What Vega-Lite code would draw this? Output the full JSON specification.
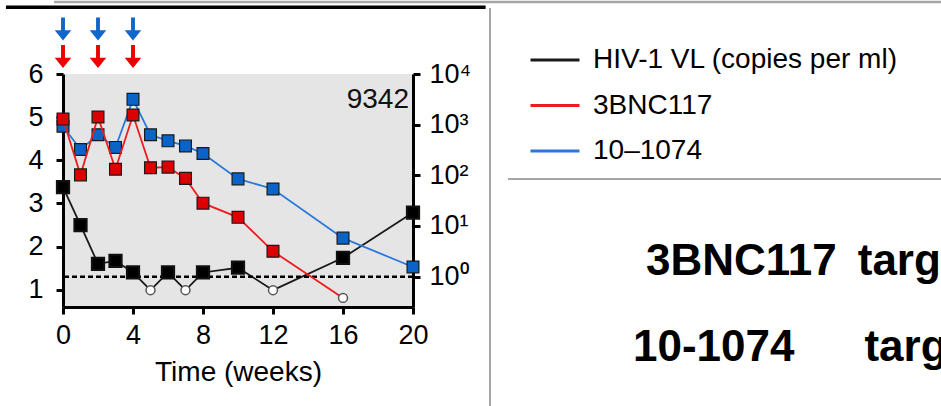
{
  "$schema": "https://vega.github.io/schema/vega-lite/v6.json",
  "width": 350,
  "height": 233,
  "autosize": {"type": "none"},
  "padding": {"left": 63, "top": 74, "right": 528, "bottom": 99},
  "background": "white",
  "config": {
    "font": "Liberation Sans",
    "view": {"fill": "#e5e5e5", "stroke": null},
    "axis": {"labelColor": "black", "titleColor": "black", "domainColor": "black", "tickColor": "black", "grid": false, "labelFont": "Liberation Sans", "titleFont": "Liberation Sans"}
  },
  "datasets": {
    "obs": [
      {"series": "HIV-1 VL (copies per ml)", "week": 0, "value": 3.38, "detected": true},
      {"series": "HIV-1 VL (copies per ml)", "week": 1, "value": 2.5, "detected": true},
      {"series": "HIV-1 VL (copies per ml)", "week": 2, "value": 1.6, "detected": true},
      {"series": "HIV-1 VL (copies per ml)", "week": 3, "value": 1.67, "detected": true},
      {"series": "HIV-1 VL (copies per ml)", "week": 4, "value": 1.4, "detected": true},
      {"series": "HIV-1 VL (copies per ml)", "week": 5, "value": 0.99, "detected": false},
      {"series": "HIV-1 VL (copies per ml)", "week": 6, "value": 1.4, "detected": true},
      {"series": "HIV-1 VL (copies per ml)", "week": 7, "value": 0.99, "detected": false},
      {"series": "HIV-1 VL (copies per ml)", "week": 8, "value": 1.4, "detected": true},
      {"series": "HIV-1 VL (copies per ml)", "week": 10, "value": 1.51, "detected": true},
      {"series": "HIV-1 VL (copies per ml)", "week": 12, "value": 0.99, "detected": false},
      {"series": "HIV-1 VL (copies per ml)", "week": 16, "value": 1.74, "detected": true},
      {"series": "HIV-1 VL (copies per ml)", "week": 20, "value": 2.79, "detected": true},
      {"series": "3BNC117", "week": 0, "value": 1288, "detected": true},
      {"series": "3BNC117", "week": 1, "value": 102, "detected": true},
      {"series": "3BNC117", "week": 2, "value": 1413, "detected": true},
      {"series": "3BNC117", "week": 3, "value": 132, "detected": true},
      {"series": "3BNC117", "week": 4, "value": 1549, "detected": true},
      {"series": "3BNC117", "week": 5, "value": 141, "detected": true},
      {"series": "3BNC117", "week": 6, "value": 145, "detected": true},
      {"series": "3BNC117", "week": 7, "value": 87, "detected": true},
      {"series": "3BNC117", "week": 8, "value": 28.2, "detected": true},
      {"series": "3BNC117", "week": 10, "value": 14.8, "detected": true},
      {"series": "3BNC117", "week": 12, "value": 3.16, "detected": true},
      {"series": "3BNC117", "week": 16, "value": 0.38, "detected": false},
      {"series": "10–1074", "week": 0, "value": 933, "detected": true},
      {"series": "10–1074", "week": 1, "value": 324, "detected": true},
      {"series": "10–1074", "week": 2, "value": 631, "detected": true},
      {"series": "10–1074", "week": 3, "value": 355, "detected": true},
      {"series": "10–1074", "week": 4, "value": 3162, "detected": true},
      {"series": "10–1074", "week": 5, "value": 631, "detected": true},
      {"series": "10–1074", "week": 6, "value": 479, "detected": true},
      {"series": "10–1074", "week": 7, "value": 380, "detected": true},
      {"series": "10–1074", "week": 8, "value": 269, "detected": true},
      {"series": "10–1074", "week": 10, "value": 85, "detected": true},
      {"series": "10–1074", "week": 12, "value": 53.7, "detected": true},
      {"series": "10–1074", "week": 16, "value": 5.75, "detected": true},
      {"series": "10–1074", "week": 20, "value": 1.55, "detected": true}
    ],
    "doses": [
      {"antibody": "3BNC117", "week": 0},
      {"antibody": "3BNC117", "week": 2},
      {"antibody": "3BNC117", "week": 4},
      {"antibody": "10–1074", "week": 0},
      {"antibody": "10–1074", "week": 2},
      {"antibody": "10–1074", "week": 4}
    ],
    "one": [{}]
  },
  "layer": [
    {
      "layer": [
        {
          "data": {"name": "obs"},
          "transform": [{"filter": "datum.series === 'HIV-1 VL (copies per ml)'"}],
          "mark": {"type": "line", "strokeWidth": 1.8},
          "encoding": {
            "x": {"field": "week", "type": "quantitative", "scale": {"domain": [0, 20], "nice": false, "zero": false},
              "axis": {"title": "Time (weeks)", "values": [0, 4, 8, 12, 16, 20], "domainWidth": 3, "tickWidth": 3, "tickSize": 7, "labelFontSize": 27, "labelPadding": 8, "titleFontSize": 28, "titleFontWeight": "normal", "titlePadding": 10, "labelFlush": false, "labelOverlap": false}},
            "y": {"field": "value", "type": "quantitative", "scale": {"domain": [0.6, 6], "nice": false, "zero": false},
              "axis": {"orient": "left", "title": null, "values": [1, 2, 3, 4, 5, 6], "domainWidth": 3, "tickWidth": 3, "tickSize": 7, "labelFontSize": 27, "labelPadding": 13, "labelFlush": false, "labelOverlap": false}},
            "color": {"field": "series", "type": "nominal",
              "scale": {"domain": ["HIV-1 VL (copies per ml)", "3BNC117", "10–1074"], "range": ["#1a1a1a", "#ee1c1c", "#2a78dc"]},
              "legend": {"title": null, "orient": "none", "legendX": 466, "legendY": -40, "symbolType": "stroke", "symbolSize": 2401, "symbolStrokeWidth": 3, "symbolOpacity": 1, "labelFontSize": 28, "labelOffset": 12, "rowPadding": 5.5, "labelColor": "black", "labelLimit": 600, "padding": 0}}
          }
        },
        {
          "data": {"name": "one"},
          "mark": {"type": "rule", "color": "#a6a6a6", "strokeWidth": 2.5},
          "encoding": {
            "x": {"datum": -0.51, "type": "quantitative", "scale": {"domain": [0, 20], "nice": false, "zero": false},
              "axis": {"title": "Time (weeks)", "values": [0, 4, 8, 12, 16, 20], "domainWidth": 3, "tickWidth": 3, "tickSize": 7, "labelFontSize": 27, "labelPadding": 8, "titleFontSize": 28, "titleFontWeight": "normal", "titlePadding": 10, "labelFlush": false, "labelOverlap": false}},
            "x2": {"datum": 51},
            "y": {"datum": 7.67, "type": "quantitative", "scale": {"domain": [0.6, 6], "nice": false, "zero": false},
              "axis": {"orient": "left", "title": null, "values": [1, 2, 3, 4, 5, 6], "domainWidth": 3, "tickWidth": 3, "tickSize": 7, "labelFontSize": 27, "labelPadding": 13, "labelFlush": false, "labelOverlap": false}}
          }
        },
        {
          "data": {"name": "one"},
          "mark": {"type": "rule", "color": "black", "strokeWidth": 3.5},
          "encoding": {
            "x": {"datum": -3.26, "type": "quantitative", "scale": {"domain": [0, 20], "nice": false, "zero": false},
              "axis": {"title": "Time (weeks)", "values": [0, 4, 8, 12, 16, 20], "domainWidth": 3, "tickWidth": 3, "tickSize": 7, "labelFontSize": 27, "labelPadding": 8, "titleFontSize": 28, "titleFontWeight": "normal", "titlePadding": 10, "labelFlush": false, "labelOverlap": false}},
            "x2": {"datum": 24.15},
            "y": {"datum": 7.546, "type": "quantitative", "scale": {"domain": [0.6, 6], "nice": false, "zero": false},
              "axis": {"orient": "left", "title": null, "values": [1, 2, 3, 4, 5, 6], "domainWidth": 3, "tickWidth": 3, "tickSize": 7, "labelFontSize": 27, "labelPadding": 13, "labelFlush": false, "labelOverlap": false}}
          }
        },
        {
          "data": {"name": "one"},
          "mark": {"type": "rule", "color": "#a6a6a6", "strokeWidth": 2},
          "encoding": {
            "x": {"datum": 24.4, "type": "quantitative", "scale": {"domain": [0, 20], "nice": false, "zero": false},
              "axis": {"title": "Time (weeks)", "values": [0, 4, 8, 12, 16, 20], "domainWidth": 3, "tickWidth": 3, "tickSize": 7, "labelFontSize": 27, "labelPadding": 8, "titleFontSize": 28, "titleFontWeight": "normal", "titlePadding": 10, "labelFlush": false, "labelOverlap": false}},
            "y": {"datum": 7.53, "type": "quantitative", "scale": {"domain": [0.6, 6], "nice": false, "zero": false},
              "axis": {"orient": "left", "title": null, "values": [1, 2, 3, 4, 5, 6], "domainWidth": 3, "tickWidth": 3, "tickSize": 7, "labelFontSize": 27, "labelPadding": 13, "labelFlush": false, "labelOverlap": false}},
            "y2": {"datum": -2}
          }
        },
        {
          "data": {"name": "one"},
          "mark": {"type": "rule", "color": "#a6a6a6", "strokeWidth": 2},
          "encoding": {
            "x": {"datum": 25.43, "type": "quantitative", "scale": {"domain": [0, 20], "nice": false, "zero": false},
              "axis": {"title": "Time (weeks)", "values": [0, 4, 8, 12, 16, 20], "domainWidth": 3, "tickWidth": 3, "tickSize": 7, "labelFontSize": 27, "labelPadding": 8, "titleFontSize": 28, "titleFontWeight": "normal", "titlePadding": 10, "labelFlush": false, "labelOverlap": false}},
            "x2": {"datum": 51},
            "y": {"datum": 3.567, "type": "quantitative", "scale": {"domain": [0.6, 6], "nice": false, "zero": false},
              "axis": {"orient": "left", "title": null, "values": [1, 2, 3, 4, 5, 6], "domainWidth": 3, "tickWidth": 3, "tickSize": 7, "labelFontSize": 27, "labelPadding": 13, "labelFlush": false, "labelOverlap": false}}
          }
        },
        {
          "data": {"name": "one"},
          "mark": {"type": "text", "text": "3BNC117\u00a0\u2009targ", "fontSize": 44, "fontWeight": "bold", "align": "left", "baseline": "alphabetic", "color": "black"},
          "encoding": {
            "x": {"datum": 33.31, "type": "quantitative", "scale": {"domain": [0, 20], "nice": false, "zero": false},
              "axis": {"title": "Time (weeks)", "values": [0, 4, 8, 12, 16, 20], "domainWidth": 3, "tickWidth": 3, "tickSize": 7, "labelFontSize": 27, "labelPadding": 8, "titleFontSize": 28, "titleFontWeight": "normal", "titlePadding": 10, "labelFlush": false, "labelOverlap": false}},
            "y": {"datum": 1.342, "type": "quantitative", "scale": {"domain": [0.6, 6], "nice": false, "zero": false},
              "axis": {"orient": "left", "title": null, "values": [1, 2, 3, 4, 5, 6], "domainWidth": 3, "tickWidth": 3, "tickSize": 7, "labelFontSize": 27, "labelPadding": 13, "labelFlush": false, "labelOverlap": false}}
          }
        },
        {
          "data": {"name": "one"},
          "mark": {"type": "text", "text": "10-1074\u00a0\u00a0\u00a0\u00a0\u00a0\u2009targ", "fontSize": 44, "fontWeight": "bold", "align": "left", "baseline": "alphabetic", "color": "black"},
          "encoding": {
            "x": {"datum": 32.57, "type": "quantitative", "scale": {"domain": [0, 20], "nice": false, "zero": false},
              "axis": {"title": "Time (weeks)", "values": [0, 4, 8, 12, 16, 20], "domainWidth": 3, "tickWidth": 3, "tickSize": 7, "labelFontSize": 27, "labelPadding": 8, "titleFontSize": 28, "titleFontWeight": "normal", "titlePadding": 10, "labelFlush": false, "labelOverlap": false}},
            "y": {"datum": -0.651, "type": "quantitative", "scale": {"domain": [0.6, 6], "nice": false, "zero": false},
              "axis": {"orient": "left", "title": null, "values": [1, 2, 3, 4, 5, 6], "domainWidth": 3, "tickWidth": 3, "tickSize": 7, "labelFontSize": 27, "labelPadding": 13, "labelFlush": false, "labelOverlap": false}}
          }
        },
        {
          "data": {"name": "one"},
          "mark": {"type": "rule", "color": "black", "strokeWidth": 2.5, "strokeDash": [5, 3]},
          "encoding": {
            "y": {"datum": 1.3, "type": "quantitative", "scale": {"domain": [0.6, 6], "nice": false, "zero": false},
              "axis": {"orient": "left", "title": null, "values": [1, 2, 3, 4, 5, 6], "domainWidth": 3, "tickWidth": 3, "tickSize": 7, "labelFontSize": 27, "labelPadding": 13, "labelFlush": false, "labelOverlap": false}}
          }
        },
        {
          "data": {"name": "obs"},
          "transform": [{"filter": "datum.series === 'HIV-1 VL (copies per ml)' && datum.detected"}],
          "mark": {"type": "point", "shape": "square", "filled": true, "fill": "black", "stroke": "#111", "size": 150, "opacity": 1},
          "encoding": {
            "x": {"field": "week", "type": "quantitative", "scale": {"domain": [0, 20], "nice": false, "zero": false},
              "axis": {"title": "Time (weeks)", "values": [0, 4, 8, 12, 16, 20], "domainWidth": 3, "tickWidth": 3, "tickSize": 7, "labelFontSize": 27, "labelPadding": 8, "titleFontSize": 28, "titleFontWeight": "normal", "titlePadding": 10, "labelFlush": false, "labelOverlap": false}},
            "y": {"field": "value", "type": "quantitative", "scale": {"domain": [0.6, 6], "nice": false, "zero": false},
              "axis": {"orient": "left", "title": null, "values": [1, 2, 3, 4, 5, 6], "domainWidth": 3, "tickWidth": 3, "tickSize": 7, "labelFontSize": 27, "labelPadding": 13, "labelFlush": false, "labelOverlap": false}}
          }
        },
        {
          "data": {"name": "obs"},
          "transform": [{"filter": "datum.series === 'HIV-1 VL (copies per ml)' && !datum.detected"}],
          "mark": {"type": "point", "shape": "circle", "filled": true, "fill": "white", "stroke": "#555", "strokeWidth": 1.5, "size": 80, "opacity": 1},
          "encoding": {
            "x": {"field": "week", "type": "quantitative", "scale": {"domain": [0, 20], "nice": false, "zero": false},
              "axis": {"title": "Time (weeks)", "values": [0, 4, 8, 12, 16, 20], "domainWidth": 3, "tickWidth": 3, "tickSize": 7, "labelFontSize": 27, "labelPadding": 8, "titleFontSize": 28, "titleFontWeight": "normal", "titlePadding": 10, "labelFlush": false, "labelOverlap": false}},
            "y": {"field": "value", "type": "quantitative", "scale": {"domain": [0.6, 6], "nice": false, "zero": false},
              "axis": {"orient": "left", "title": null, "values": [1, 2, 3, 4, 5, 6], "domainWidth": 3, "tickWidth": 3, "tickSize": 7, "labelFontSize": 27, "labelPadding": 13, "labelFlush": false, "labelOverlap": false}}
          }
        },
        {
          "data": {"name": "one"},
          "mark": {"type": "text", "text": "9342", "fontSize": 28, "align": "right", "baseline": "alphabetic", "dx": -4, "color": "#111"},
          "encoding": {
            "x": {"datum": 20, "type": "quantitative", "scale": {"domain": [0, 20], "nice": false, "zero": false},
              "axis": {"title": "Time (weeks)", "values": [0, 4, 8, 12, 16, 20], "domainWidth": 3, "tickWidth": 3, "tickSize": 7, "labelFontSize": 27, "labelPadding": 8, "titleFontSize": 28, "titleFontWeight": "normal", "titlePadding": 10, "labelFlush": false, "labelOverlap": false}},
            "y": {"datum": 5.21, "type": "quantitative", "scale": {"domain": [0.6, 6], "nice": false, "zero": false},
              "axis": {"orient": "left", "title": null, "values": [1, 2, 3, 4, 5, 6], "domainWidth": 3, "tickWidth": 3, "tickSize": 7, "labelFontSize": 27, "labelPadding": 13, "labelFlush": false, "labelOverlap": false}}
          }
        },
        {
          "data": {"name": "doses"},
          "transform": [{"filter": "datum.antibody === '3BNC117'"}],
          "mark": {"type": "point", "shape": "M-0.17,-1L0.17,-1L0.17,0.1L0.72,0.1L0,1L-0.72,0.1L-0.17,0.1Z", "filled": true, "fill": "#ee0000", "strokeWidth": 0, "size": 529, "opacity": 1},
          "encoding": {
            "x": {"field": "week", "type": "quantitative", "scale": {"domain": [0, 20], "nice": false, "zero": false},
              "axis": {"title": "Time (weeks)", "values": [0, 4, 8, 12, 16, 20], "domainWidth": 3, "tickWidth": 3, "tickSize": 7, "labelFontSize": 27, "labelPadding": 8, "titleFontSize": 28, "titleFontWeight": "normal", "titlePadding": 10, "labelFlush": false, "labelOverlap": false}},
            "y": {"datum": 6.406, "type": "quantitative", "scale": {"domain": [0.6, 6], "nice": false, "zero": false},
              "axis": {"orient": "left", "title": null, "values": [1, 2, 3, 4, 5, 6], "domainWidth": 3, "tickWidth": 3, "tickSize": 7, "labelFontSize": 27, "labelPadding": 13, "labelFlush": false, "labelOverlap": false}}
          }
        },
        {
          "data": {"name": "doses"},
          "transform": [{"filter": "datum.antibody === '10–1074'"}],
          "mark": {"type": "point", "shape": "M-0.17,-1L0.17,-1L0.17,0.1L0.72,0.1L0,1L-0.72,0.1L-0.17,0.1Z", "filled": true, "fill": "#1166cc", "strokeWidth": 0, "size": 529, "opacity": 1},
          "encoding": {
            "x": {"field": "week", "type": "quantitative", "scale": {"domain": [0, 20], "nice": false, "zero": false},
              "axis": {"title": "Time (weeks)", "values": [0, 4, 8, 12, 16, 20], "domainWidth": 3, "tickWidth": 3, "tickSize": 7, "labelFontSize": 27, "labelPadding": 8, "titleFontSize": 28, "titleFontWeight": "normal", "titlePadding": 10, "labelFlush": false, "labelOverlap": false}},
            "y": {"datum": 7.043, "type": "quantitative", "scale": {"domain": [0.6, 6], "nice": false, "zero": false},
              "axis": {"orient": "left", "title": null, "values": [1, 2, 3, 4, 5, 6], "domainWidth": 3, "tickWidth": 3, "tickSize": 7, "labelFontSize": 27, "labelPadding": 13, "labelFlush": false, "labelOverlap": false}}
          }
        }
      ]
    },
    {
      "layer": [
        {
          "data": {"name": "obs"},
          "transform": [{"filter": "datum.series === '10–1074'"}],
          "mark": {"type": "line", "strokeWidth": 1.8},
          "encoding": {
            "x": {"field": "week", "type": "quantitative", "scale": {"domain": [0, 20], "nice": false, "zero": false},
              "axis": {"title": "Time (weeks)", "values": [0, 4, 8, 12, 16, 20], "domainWidth": 3, "tickWidth": 3, "tickSize": 7, "labelFontSize": 27, "labelPadding": 8, "titleFontSize": 28, "titleFontWeight": "normal", "titlePadding": 10, "labelFlush": false, "labelOverlap": false}},
            "y": {"field": "value", "type": "quantitative", "scale": {"type": "log", "domain": [0.2512, 10000], "nice": false},
              "axis": {"orient": "right", "title": null, "values": [1, 10, 100, 1000, 10000], "labelExpr": "datum.value == 1 ? '10⁰' : datum.value == 10 ? '10¹' : datum.value == 100 ? '10²' : datum.value == 1000 ? '10³' : '10⁴'", "domainWidth": 3, "tickWidth": 3, "tickSize": 7, "labelFontSize": 27, "labelPadding": 9, "labelFlush": false, "labelOverlap": false}},
            "color": {"field": "series", "type": "nominal",
              "scale": {"domain": ["HIV-1 VL (copies per ml)", "3BNC117", "10–1074"], "range": ["#1a1a1a", "#ee1c1c", "#2a78dc"]},
              "legend": {"title": null, "orient": "none", "legendX": 466, "legendY": -40, "symbolType": "stroke", "symbolSize": 2401, "symbolStrokeWidth": 3, "symbolOpacity": 1, "labelFontSize": 28, "labelOffset": 12, "rowPadding": 5.5, "labelColor": "black", "labelLimit": 600, "padding": 0}}
          }
        },
        {
          "data": {"name": "obs"},
          "transform": [{"filter": "datum.series === '10–1074' && datum.detected"}],
          "mark": {"type": "point", "shape": "square", "filled": true, "fill": "#0a64c8", "stroke": "#1a1a1a", "strokeWidth": 1.2, "size": 140, "opacity": 1},
          "encoding": {
            "x": {"field": "week", "type": "quantitative", "scale": {"domain": [0, 20], "nice": false, "zero": false},
              "axis": {"title": "Time (weeks)", "values": [0, 4, 8, 12, 16, 20], "domainWidth": 3, "tickWidth": 3, "tickSize": 7, "labelFontSize": 27, "labelPadding": 8, "titleFontSize": 28, "titleFontWeight": "normal", "titlePadding": 10, "labelFlush": false, "labelOverlap": false}},
            "y": {"field": "value", "type": "quantitative", "scale": {"type": "log", "domain": [0.2512, 10000], "nice": false},
              "axis": {"orient": "right", "title": null, "values": [1, 10, 100, 1000, 10000], "labelExpr": "datum.value == 1 ? '10⁰' : datum.value == 10 ? '10¹' : datum.value == 100 ? '10²' : datum.value == 1000 ? '10³' : '10⁴'", "domainWidth": 3, "tickWidth": 3, "tickSize": 7, "labelFontSize": 27, "labelPadding": 9, "labelFlush": false, "labelOverlap": false}}
          }
        },
        {
          "data": {"name": "obs"},
          "transform": [{"filter": "datum.series === '3BNC117'"}],
          "mark": {"type": "line", "strokeWidth": 1.8},
          "encoding": {
            "x": {"field": "week", "type": "quantitative", "scale": {"domain": [0, 20], "nice": false, "zero": false},
              "axis": {"title": "Time (weeks)", "values": [0, 4, 8, 12, 16, 20], "domainWidth": 3, "tickWidth": 3, "tickSize": 7, "labelFontSize": 27, "labelPadding": 8, "titleFontSize": 28, "titleFontWeight": "normal", "titlePadding": 10, "labelFlush": false, "labelOverlap": false}},
            "y": {"field": "value", "type": "quantitative", "scale": {"type": "log", "domain": [0.2512, 10000], "nice": false},
              "axis": {"orient": "right", "title": null, "values": [1, 10, 100, 1000, 10000], "labelExpr": "datum.value == 1 ? '10⁰' : datum.value == 10 ? '10¹' : datum.value == 100 ? '10²' : datum.value == 1000 ? '10³' : '10⁴'", "domainWidth": 3, "tickWidth": 3, "tickSize": 7, "labelFontSize": 27, "labelPadding": 9, "labelFlush": false, "labelOverlap": false}},
            "color": {"field": "series", "type": "nominal",
              "scale": {"domain": ["HIV-1 VL (copies per ml)", "3BNC117", "10–1074"], "range": ["#1a1a1a", "#ee1c1c", "#2a78dc"]},
              "legend": {"title": null, "orient": "none", "legendX": 466, "legendY": -40, "symbolType": "stroke", "symbolSize": 2401, "symbolStrokeWidth": 3, "symbolOpacity": 1, "labelFontSize": 28, "labelOffset": 12, "rowPadding": 5.5, "labelColor": "black", "labelLimit": 600, "padding": 0}}
          }
        },
        {
          "data": {"name": "obs"},
          "transform": [{"filter": "datum.series === '3BNC117' && datum.detected"}],
          "mark": {"type": "point", "shape": "square", "filled": true, "fill": "#dd0000", "stroke": "#1a1a1a", "strokeWidth": 1.2, "size": 140, "opacity": 1},
          "encoding": {
            "x": {"field": "week", "type": "quantitative", "scale": {"domain": [0, 20], "nice": false, "zero": false},
              "axis": {"title": "Time (weeks)", "values": [0, 4, 8, 12, 16, 20], "domainWidth": 3, "tickWidth": 3, "tickSize": 7, "labelFontSize": 27, "labelPadding": 8, "titleFontSize": 28, "titleFontWeight": "normal", "titlePadding": 10, "labelFlush": false, "labelOverlap": false}},
            "y": {"field": "value", "type": "quantitative", "scale": {"type": "log", "domain": [0.2512, 10000], "nice": false},
              "axis": {"orient": "right", "title": null, "values": [1, 10, 100, 1000, 10000], "labelExpr": "datum.value == 1 ? '10⁰' : datum.value == 10 ? '10¹' : datum.value == 100 ? '10²' : datum.value == 1000 ? '10³' : '10⁴'", "domainWidth": 3, "tickWidth": 3, "tickSize": 7, "labelFontSize": 27, "labelPadding": 9, "labelFlush": false, "labelOverlap": false}}
          }
        },
        {
          "data": {"name": "obs"},
          "transform": [{"filter": "datum.series === '3BNC117' && !datum.detected"}],
          "mark": {"type": "point", "shape": "circle", "filled": true, "fill": "white", "stroke": "#555", "strokeWidth": 1.5, "size": 80, "opacity": 1},
          "encoding": {
            "x": {"field": "week", "type": "quantitative", "scale": {"domain": [0, 20], "nice": false, "zero": false},
              "axis": {"title": "Time (weeks)", "values": [0, 4, 8, 12, 16, 20], "domainWidth": 3, "tickWidth": 3, "tickSize": 7, "labelFontSize": 27, "labelPadding": 8, "titleFontSize": 28, "titleFontWeight": "normal", "titlePadding": 10, "labelFlush": false, "labelOverlap": false}},
            "y": {"field": "value", "type": "quantitative", "scale": {"type": "log", "domain": [0.2512, 10000], "nice": false},
              "axis": {"orient": "right", "title": null, "values": [1, 10, 100, 1000, 10000], "labelExpr": "datum.value == 1 ? '10⁰' : datum.value == 10 ? '10¹' : datum.value == 100 ? '10²' : datum.value == 1000 ? '10³' : '10⁴'", "domainWidth": 3, "tickWidth": 3, "tickSize": 7, "labelFontSize": 27, "labelPadding": 9, "labelFlush": false, "labelOverlap": false}}
          }
        }
      ]
    }
  ],
  "resolve": {"scale": {"y": "independent"}}
}
